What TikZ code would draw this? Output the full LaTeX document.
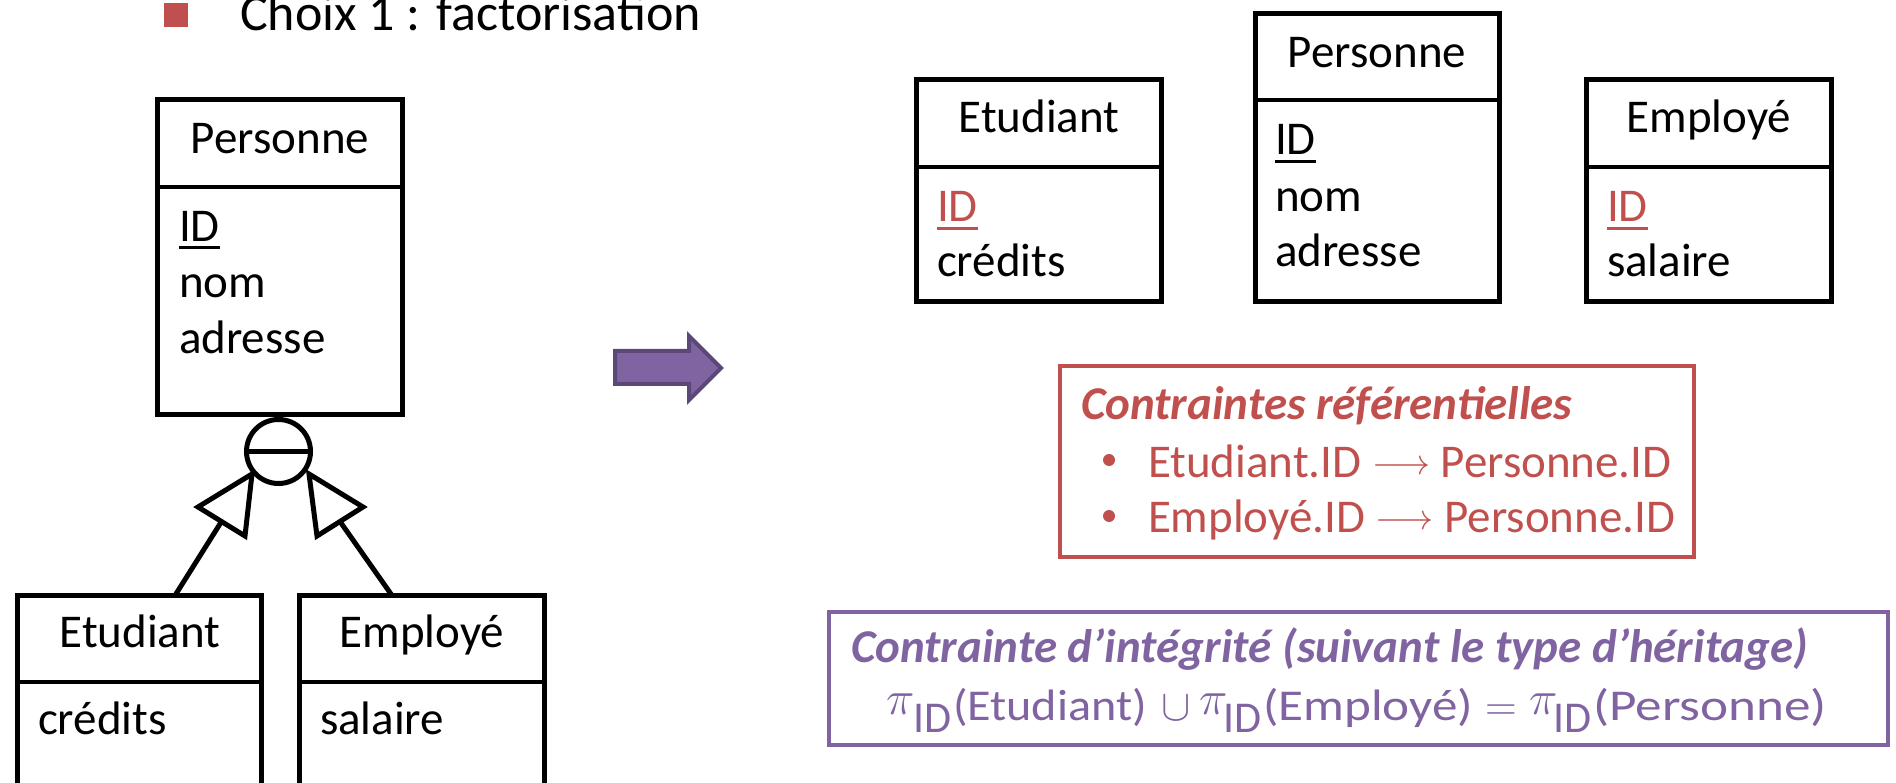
\RequirePackage{fix-cm}
\documentclass[tikz,border=0pt]{standalone}
\usepackage{graphicx}
\usepackage{fontspec}
\setmainfont{Carlito}
\usetikzlibrary{calc}
\definecolor{accred}{HTML}{C0504D}
\definecolor{accpurple}{HTML}{8064A2}
\definecolor{accpurpledark}{HTML}{5C4878}
\newcommand{\tabfont}{\fontsize{47}{56}\selectfont}
\newcommand{\headfont}{\fontsize{52}{62}\selectfont}
\newcommand{\boxfont}{\fontsize{47}{56}\selectfont}
\newcommand{\formfont}{\fontsize{44}{52}\selectfont}
% pieces of the projection formula
\newcommand{\fpi}{\raisebox{6pt}{\fontsize{48}{56}\selectfont$\pi$}}
\newcommand{\fid}{\raisebox{-12pt}{ID}}
\newcommand{\fpart}[2]{\makebox[#1pt][l]{#2}}
\newcommand{\fwide}[2]{\resizebox{#1pt}{\height}{#2}}
\newcommand{\reflong}{\raisebox{3pt}{\fontsize{36}{40}\selectfont$\longrightarrow$}}
\begin{document}
\begin{tikzpicture}[x=1pt,y=-1pt,
  entity/.style={draw, line width=5pt, inner sep=0pt, outer sep=0pt},
  divider/.style={line width=3.5pt},
  lbl/.style={inner sep=0pt, outer sep=0pt, font=\tabfont},
  attr/.style={lbl, anchor=base west},
  ename/.style={lbl, anchor=base},
  ul/.style={line width=3pt},
  isa/.style={line width=5pt, line join=miter},
  cbox/.style={draw, line width=4pt, inner sep=0pt, outer sep=0pt}]
\useasboundingbox (0,0) rectangle (1896,783);
\clip (0,0) rectangle (1896,783);

% heading bullet
\fill[accred] (164,3) rectangle (188,27);
\node[lbl, font=\headfont, anchor=base west] (head) at (240,31) {Choix 1 : factorisation};

% ---- left: E/R schema with specialisation ----
\node[entity, minimum width=245, minimum height=315] (pL) at (280,257) {};
\draw[divider] (pL.west |- 0,187) -- (pL.east |- 0,187);
\node[ename] (pLn) at (280,154) {Personne};
\node[attr] (pLid) at (179,242) {ID};
\draw[ul] ([yshift=-6pt]pLid.base west) -- ([yshift=-6pt]pLid.base east);
\node[attr] (pLnom) at (179,298) {nom};
\node[attr] (pLadr) at (179,354) {adresse};

\node[entity, minimum width=244, minimum height=225] (eL) at (139.5,708) {};
\draw[divider] (eL.west |- 0,682) -- (eL.east |- 0,682);
\node[ename] (eLn) at (140,647) {Etudiant};
\node[attr] (eLcr) at (38,734) {crédits};

\node[entity, minimum width=245, minimum height=225] (mL) at (422,708) {};
\draw[divider] (mL.west |- 0,682) -- (mL.east |- 0,682);
\node[ename] (mLn) at (422,647) {Employé};
\node[attr] (mLsal) at (320,734) {salaire};

% specialisation circle
\node[draw, circle, line width=5pt, minimum size=64pt, inner sep=0pt] (gen) at (278.5,451.5) {};
\draw[line width=5pt] (gen.west) -- (gen.east);

% open triangles pointing at the circle
\coordinate (tLtip) at (252,474);
\coordinate (tLa) at (198,507);
\coordinate (tLb) at (245,536);
\coordinate (tLbase) at (221.5,521.5);
\coordinate (tRtip) at (309,474);
\coordinate (tRa) at (363,507);
\coordinate (tRb) at (317,536);
\coordinate (tRbase) at (340,521.5);
\draw[isa] (175,0 |- eL.north) -- (tLbase);
\draw[isa] (392,0 |- mL.north) -- (tRbase);
\draw[isa] (tLtip) -- (tLa) -- (tLb) -- cycle;
\draw[isa] (tRtip) -- (tRa) -- (tRb) -- cycle;

% transformation arrow
\draw[fill=accpurple, draw=accpurpledark, line width=4pt, line join=miter]
  (615,351) -- (689,351) -- (689,336) -- (721,368) -- (689,400) -- (689,384) -- (615,384) -- cycle;

% ---- right: relational tables ----
\node[entity, minimum width=245, minimum height=222] (eR) at (1039,190.5) {};
\draw[divider] (eR.west |- 0,167) -- (eR.east |- 0,167);
\node[ename] (eRn) at (1039,133) {Etudiant};
\node[attr, text=accred] (eRid) at (937,222) {ID};
\draw[ul, accred] ([yshift=-7pt]eRid.base west) -- ([yshift=-7pt]eRid.base east);
\node[attr] (eRcr) at (937,277) {crédits};

\node[entity, minimum width=244, minimum height=288] (pR) at (1377.5,157.5) {};
\draw[divider] (pR.west |- 0,100) -- (pR.east |- 0,100);
\node[ename] (pRn) at (1377,68) {Personne};
\node[attr] (pRid) at (1275,155) {ID};
\draw[ul] ([yshift=-7pt]pRid.base west) -- ([yshift=-7pt]pRid.base east);
\node[attr] (pRnom) at (1275,212) {nom};
\node[attr] (pRadr) at (1275,267) {adresse};

\node[entity, minimum width=245, minimum height=222] (mR) at (1709,190.5) {};
\draw[divider] (mR.west |- 0,167) -- (mR.east |- 0,167);
\node[ename] (mRn) at (1709,133) {Employé};
\node[attr, text=accred] (mRid) at (1607,222) {ID};
\draw[ul, accred] ([yshift=-7pt]mRid.base west) -- ([yshift=-7pt]mRid.base east);
\node[attr] (mRsal) at (1607,277) {salaire};

% referential constraints
\node[cbox, draw=accred, minimum width=634, minimum height=191] (refbox) at (1377,461.5) {};
\node[lbl, font=\boxfont\bfseries\itshape, text=accred, anchor=base west] (reft) at (1081,420) {Contraintes référentielles};
\fill[accred] (1109,460) circle (6);
\node[lbl, font=\boxfont, text=accred, anchor=base west] (ref1) at (1148,477) {Etudiant.ID \reflong{} Personne.ID};
\fill[accred] (1109,516) circle (6);
\node[lbl, font=\boxfont, text=accred, anchor=base west] (ref2) at (1148,532) {Employé.ID \reflong{} Personne.ID};

% integrity constraint
\node[cbox, draw=accpurple, minimum width=1059, minimum height=133] (intbox) at (1358.5,678.5) {};
\node[lbl, font=\boxfont\bfseries\itshape, text=accpurple, anchor=base west] (intt) at (851,662) {Contrainte d’intégrité (suivant le type d’héritage)};
\node[lbl, font=\formfont, text=accpurple, anchor=base west] (intf) at (886,720)
  {\fpart{27}{\fpi}\fpart{40}{\fid}\fpart{208}{\fwide{194}{(Etudiant)}}\fpart{38}{$\cup$}%
   \fpart{24}{\fpi}\fpart{40}{\fid}\fpart{222}{\fwide{210}{(Employé)}}\fpart{44}{$=$}%
   \fpart{24}{\fpi}\fpart{40}{\fid}\fwide{234}{(Personne)}};
\end{tikzpicture}
\end{document}
